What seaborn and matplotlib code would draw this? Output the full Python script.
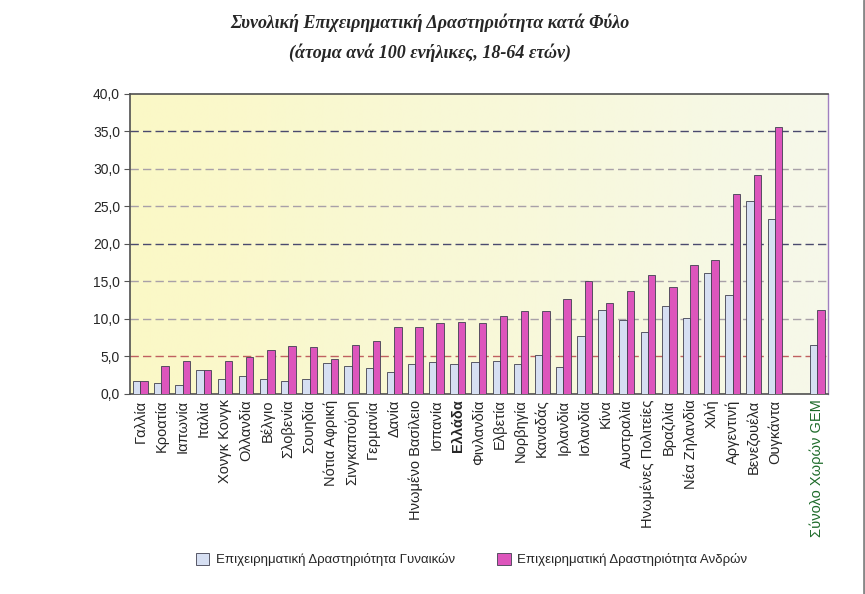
import numpy as np
import pandas as pd
import matplotlib.pyplot as plt
import matplotlib.lines as mlines
from matplotlib.colors import LinearSegmentedColormap
import seaborn as sns

# Χώρες (κενή θέση πριν από το σύνολο)
countries = ['Γαλλία', 'Κροατία', 'Ιαπωνία', 'Ιταλία', 'Χονγκ Κονγκ', 'Ολλανδία',
             'Βέλγιο', 'Σλοβενία', 'Σουηδία', 'Νότια Αφρική', 'Σινγκαπούρη',
             'Γερμανία', 'Δανία', 'Ηνωμένο Βασίλειο', 'Ισπανία', 'Ελλάδα',
             'Φινλανδία', 'Ελβετία', 'Νορβηγία', 'Καναδάς', 'Ιρλανδία',
             'Ισλανδία', 'Κίνα', 'Αυστραλία', 'Ηνωμένες Πολιτείες', 'Βραζιλία',
             'Νέα Ζηλανδία', 'Χιλή', 'Αργεντινή', 'Βενεζουέλα', 'Ουγκάντα',
             ' ', 'Σύνολο Χωρών GEM']

women = [1.7, 1.5, 1.2, 3.2, 2.0, 2.35, 2.0, 1.7, 2.0, 4.1, 3.7,
         3.5, 2.9, 3.95, 4.2, 4.0, 4.2, 4.4, 3.95, 5.2, 3.6,
         7.7, 11.2, 9.8, 8.2, 11.7, 10.1, 16.1, 13.2, 25.7, 23.3,
         np.nan, 6.5]

men = [1.7, 3.7, 4.35, 3.2, 4.4, 4.9, 5.9, 6.4, 6.2, 4.6, 6.5,
       7.1, 8.9, 8.9, 9.45, 9.6, 9.45, 10.4, 11.0, 11.0, 12.6,
       15.0, 12.1, 13.7, 15.8, 14.2, 17.2, 17.9, 26.6, 29.15, 35.6,
       np.nan, 11.2]

series = ['Επιχειρηματική Δραστηριότητα Γυναικών',
          'Επιχειρηματική Δραστηριότητα Ανδρών']

df = pd.DataFrame({'Χώρα': countries * 2,
                   'Τιμή': women + men,
                   'Φύλο': [series[0]] * len(countries) + [series[1]] * len(countries)})

sns.set_style('white')
plt.rcParams['font.family'] = ['Liberation Sans', 'DejaVu Sans']

fig = plt.figure(figsize=(8.65, 5.94), dpi=100)
ax = fig.add_axes([0.150, 0.337, 0.807, 0.505])

# background gradient of the plot area
grad = np.linspace(0, 1, 256).reshape(1, -1)
bg = LinearSegmentedColormap.from_list('bg', ['#FBF8C6', '#F6F8EA'])
ax.imshow(grad, extent=[-0.5, len(countries) - 0.5, 0, 40], aspect='auto',
          cmap=bg, zorder=0)

sns.barplot(data=df, x='Χώρα', y='Τιμή', hue='Φύλο', order=countries,
            hue_order=series, palette=['#D6DFF2', '#DD55BC'], width=0.7,
            edgecolor='#404050', linewidth=0.6, saturation=1, ax=ax, zorder=3)

# gridlines
for v in range(5, 40, 5):
    c = '#4A4A6E' if v in (20, 35) else '#A8A0A8'
    if v == 5:
        c = '#C06060'
    ax.axhline(v, color=c, linestyle=(0, (6, 3)), linewidth=1.0, zorder=1)

ax.set_xlim(-0.5, len(countries) - 0.5)
ax.set_ylim(0, 40)
ax.set_yticks(range(0, 41, 5))
ax.set_yticklabels([f'{v:.1f}'.replace('.', ',') for v in range(0, 41, 5)], fontsize=10)
ax.set_xlabel('')
ax.set_ylabel('')
ax.set_xticks(range(len(countries)))
ax.set_xticklabels(countries, rotation=90, fontsize=10.5)
ax.set_xticks(np.arange(-0.5, len(countries), 1), minor=True)
ax.tick_params(axis='x', which='major', length=0, pad=4)
ax.tick_params(axis='x', which='minor', length=3, color='#555555')
ax.tick_params(axis='y', length=4, color='#555555', left=True, pad=3)

for lbl in ax.get_xticklabels():
    if lbl.get_text() == 'Ελλάδα':
        lbl.set_fontweight('bold')
    if lbl.get_text() == 'Σύνολο Χωρών GEM':
        lbl.set_color('#1E6B2A')

for side in ['left', 'top', 'bottom']:
    ax.spines[side].set_color('#505050')
    ax.spines[side].set_linewidth(1.2)
ax.spines['right'].set_color('#A080C0')
ax.spines['right'].set_linewidth(1.0)

ax.legend(loc='center', bbox_to_anchor=(0.49, -0.553), ncol=2, frameon=False,
          fontsize=9.5, handlelength=1.0, handleheight=1.0, columnspacing=3.2,
          handletextpad=0.5)

fig.text(0.497, 0.962, 'Συνολική Επιχειρηματική Δραστηριότητα κατά Φύλο',
         ha='center', va='center', fontsize=13, fontweight='bold', style='italic',
         family='Liberation Serif')
fig.text(0.497, 0.912, '(άτομα ανά 100 ενήλικες, 18-64 ετών)',
         ha='center', va='center', fontsize=13, fontweight='bold', style='italic',
         family='Liberation Serif')

fig.add_artist(mlines.Line2D([0.9985, 0.9985], [0, 1], color='#888888', linewidth=2,
                             transform=fig.transFigure))

fig.savefig('out.png', dpi=100)
